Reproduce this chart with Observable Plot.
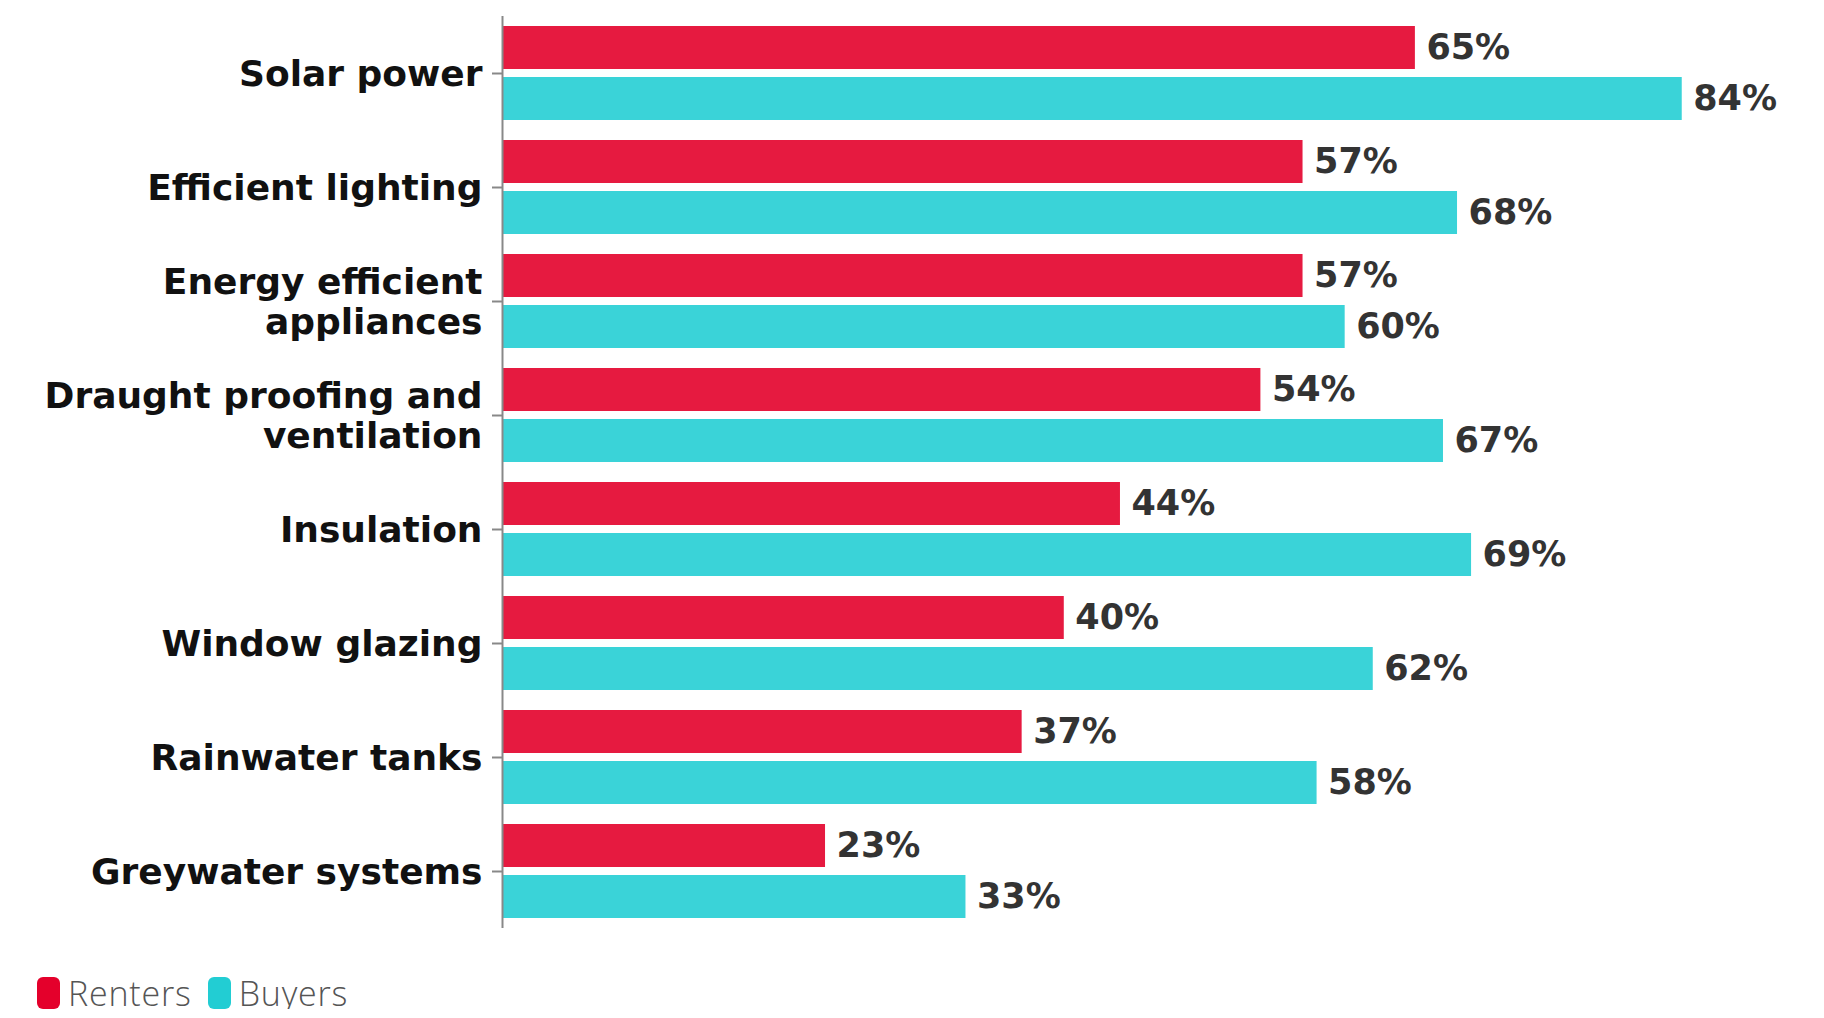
<!DOCTYPE html>
<html>
<head>
<meta charset="utf-8">
<script src="https://cdn.jsdelivr.net/npm/d3@7"></script>
<script src="https://cdn.jsdelivr.net/npm/@observablehq/plot@0.6"></script>
<style>
  html, body { margin: 0; padding: 0; background: #fff; overflow: hidden; }
  #chart svg { display: block; }
  .legend { display: flex; align-items: center; margin-left: 37px; margin-top: 17px; height: 32px;
            font-family: "Open Sans", sans-serif; font-weight: 300; font-size: 34px; letter-spacing: 0.8px; color: #555; line-height: 32px; }
  .legend .item { display: flex; align-items: center; margin-right: 16px; }
  .legend .sw { width: 23px; height: 32px; border-radius: 6px; margin-right: 8px; }
</style>
</head>
<body>
<div id="chart"></div>
<div class="legend" id="legend"></div>
<script>
const categories = ["Solar power", "Efficient lighting", "Energy efficient appliances", "Draught proofing and ventilation", "Insulation", "Window glazing", "Rainwater tanks", "Greywater systems"];
const categoryLabels = ["Solar power", "Efficient lighting", "Energy efficient\nappliances", "Draught proofing and\nventilation", "Insulation", "Window glazing", "Rainwater tanks", "Greywater systems"];
const series = ["Renters", "Buyers"];
const renters = [65, 57, 57, 54, 44, 40, 37, 23];
const buyers = [84, 68, 60, 67, 69, 62, 58, 33];
const barColors = ["#E61A40", "#3AD3D8"];
const legendColors = ["#E4002B", "#22CDD3"];

const data = categories.flatMap((c, i) => [
  {category: c, series: "Renters", value: renters[i]},
  {category: c, series: "Buyers", value: buyers[i]}
]);
const labelOf = new Map(categories.map((c, i) => [c, categoryLabels[i]]));

const chart = Plot.plot({
  width: 1824,
  height: 960,
  marginLeft: 502,
  marginRight: 58,
  marginTop: 13,
  marginBottom: 30,
  style: {fontFamily: "'DejaVu Sans', sans-serif", fontSize: "36px", fontWeight: "bold", background: "#fff"},
  x: {domain: [0, 90], axis: null},
  y: {domain: series, axis: null, paddingInner: 0.155, paddingOuter: 0.19},
  fy: {domain: categories, range: [13, 930], paddingInner: 0, paddingOuter: 0, axis: null},
  color: {domain: series, range: barColors},
  facet: {data, y: "category"},
  marks: [
    Plot.barX(data, {x: "value", y: "series", fill: "series"}),
    Plot.text(data, {x: "value", y: "series", text: d => d.value + "%", dx: 11, textAnchor: "start", fill: "#333", fontSize: 35, fontWeight: "bold"}),
    Plot.ruleX([0], {stroke: "#888", strokeWidth: 2}),
    Plot.axisFy({anchor: "left", tickSize: 10, tickPadding: 10, stroke: "#888", strokeWidth: 2, fill: "#111", lineHeight: 1.11, fontSize: 36, fontWeight: "bold", label: null, tickFormat: d => labelOf.get(d)})
  ]
});
document.getElementById("chart").appendChild(chart);

const legend = document.getElementById("legend");
series.forEach((s, i) => {
  const item = document.createElement("div");
  item.className = "item";
  const sw = document.createElement("div");
  sw.className = "sw";
  sw.style.background = legendColors[i];
  const t = document.createElement("span");
  t.textContent = s;
  item.appendChild(sw);
  item.appendChild(t);
  legend.appendChild(item);
});
</script>
</body>
</html>
